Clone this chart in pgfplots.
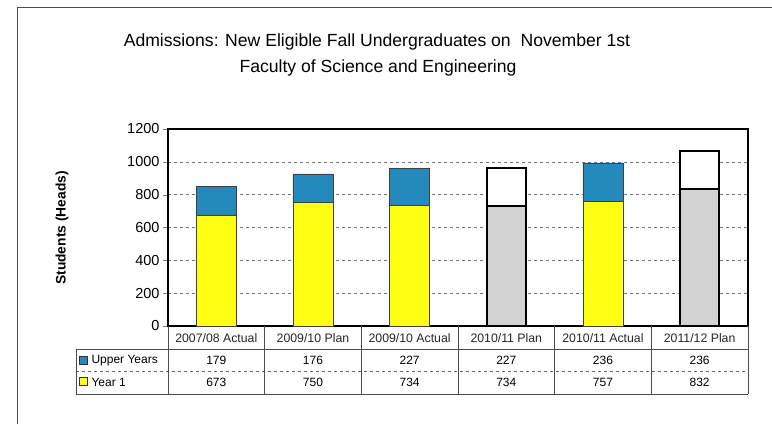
\documentclass[border=0pt]{standalone}
\usepackage{fontspec}
\setmainfont{Liberation Sans}
\usepackage{pgfplots}
\usepackage{pgfplotstable}
\pgfplotsset{compat=1.18}

\definecolor{upperblue}{RGB}{36,138,188}
\definecolor{yearyellow}{RGB}{255,255,20}
\definecolor{plangray}{RGB}{210,210,210}

% actual-style bars (yellow/blue)
\pgfplotstableread{
x year1 upper
0 673 179
1 750 176
2 734 227
4 757 236
}\actual
% plan bars (gray/white)
\pgfplotstableread{
x year1 upper
3 734 227
5 832 236
}\plan

\begin{document}
\begin{tikzpicture}
\path[use as bounding box] (0pt,0pt) rectangle (772pt,-424pt);

\begin{axis}[
  at={(168pt,-326pt)}, anchor=south west,
  width=580pt, height=197pt, scale only axis,
  ybar stacked, bar width=40pt,
  xmin=-0.5, xmax=5.5, ymin=0, ymax=1200,
  ytick={0,200,...,1200}, xtick=\empty,
  tick pos=left, tick align=outside, major tick length=5pt,
  ymajorgrids,
  grid style={dashed, black!55, line width=0.6pt},
  axis line style={line width=1.2pt},
  yticklabel style={font=\fontsize{14.5}{14.5}\selectfont},
  /pgf/number format/assume math mode=true,
  /pgf/number format/1000 sep={},
]
\addplot[fill=yearyellow, draw=black!75, line width=0.8pt] table[x=x, y=year1] {\actual};
\addplot[fill=upperblue, draw=black!75, line width=0.8pt] table[x=x, y=upper] {\actual};
\end{axis}

\begin{axis}[
  at={(168pt,-326pt)}, anchor=south west,
  width=580pt, height=197pt, scale only axis,
  ybar stacked, bar width=39pt,
  xmin=-0.5, xmax=5.5, ymin=0, ymax=1200,
  hide axis,
]
\addplot[fill=plangray, draw=black, line width=2pt] table[x=x, y=year1] {\plan};
\addplot[fill=white, draw=black, line width=2pt] table[x=x, y=upper] {\plan};
\end{axis}

\begin{scope}[x=1pt,y=-1pt]
  % outer frame
  \draw[black!70, line width=0.8pt] (17,424) -- (17,7) -- (772,7);
  % titles
  \node[font=\fontsize{17.6}{17.6}\selectfont] at (377,42)
    {Admissions: New Eligible Fall Undergraduates on\ \ November 1st};
  \node[font=\fontsize{17.6}{17.6}\selectfont] at (378,68)
    {Faculty of Science and Engineering};
  \node[rotate=90, font=\bfseries\fontsize{13.8}{13.8}\selectfont] at (62,228)
    {Students (Heads)};

  % data table
  \draw[black!70, line width=0.7pt] (76,349) -- (748,349);
  \draw[black!60, line width=0.7pt, dashed] (76,371) -- (748,371);
  \draw[black!70, line width=0.7pt] (76,394) -- (748,394);
  \draw[black!70, line width=0.7pt] (76,349) -- (76,394);
  \foreach \k in {0,...,6} {
    \draw[black!70, line width=0.7pt] (168+96.667*\k,326) -- (168+96.667*\k,394);
  }
  \foreach \lab [count=\i from 0] in {2007/08 Actual, 2009/10 Plan, 2009/10 Actual,
      2010/11 Plan, 2010/11 Actual, 2011/12 Plan} {
    \node[font=\fontsize{12.3}{12.3}\selectfont, text=black!85] at (216.3+96.667*\i,338) {\lab};
  }
  \foreach \v [count=\i from 0] in {179,176,227,227,236,236} {
    \node[font=\fontsize{12}{12}\selectfont] at (216.3+96.667*\i,360) {\v};
  }
  \foreach \v [count=\i from 0] in {673,750,734,734,757,832} {
    \node[font=\fontsize{12}{12}\selectfont] at (216.3+96.667*\i,382) {\v};
  }
  % legend keys
  \draw[fill=upperblue, draw=black!80, line width=0.6pt] (79,356) rectangle (87,364);
  \draw[fill=yearyellow, draw=black!80, line width=0.6pt] (79,377) rectangle (87,385);
  \node[anchor=west, font=\fontsize{12}{12}\selectfont] at (88,360.5) {Upper Years};
  \node[anchor=west, font=\fontsize{12}{12}\selectfont] at (88,382) {Year 1};
\end{scope}
\end{tikzpicture}
\end{document}
